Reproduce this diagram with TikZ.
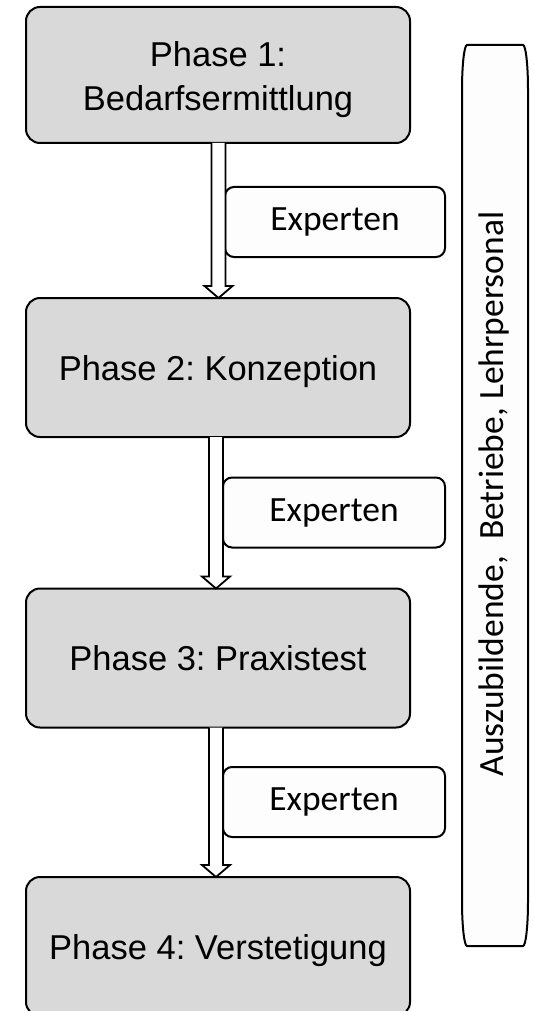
\documentclass[tikz,border=0pt]{standalone}
\usepackage{fontspec}
\setmainfont{Liberation Sans}
\newfontfamily\calibri{Carlito}
\frenchspacing
\definecolor{boxgray}{HTML}{D9D9D9}
\definecolor{paper}{HTML}{FDFDFD}
\tikzset{
  phase/.style={draw=black, line width=2pt, fill=boxgray, rounded corners=14pt,
    minimum width=384pt, minimum height=139pt, inner sep=0pt, outer sep=0pt,
    font=\fontsize{34.5}{44}\selectfont, align=center},
  oneline/.style={text height=25pt, text depth=0pt},
  expert/.style={draw=black, line width=2pt, fill=paper, rounded corners=9pt,
    minimum height=70pt, inner sep=0pt, outer sep=0pt,
    font=\calibri\fontsize{35.5}{42}\selectfont},
  hollow/.style={draw=black, line width=1.8pt, fill=white, line join=miter},
  sidebox/.style={draw=black, line width=2pt, fill=paper},
  sidetext/.style={font=\calibri\fontsize{35.5}{42}\selectfont, rotate=90, anchor=base, inner sep=0pt}
}
\newcommand\hollowarrow[3]{%
  \draw[hollow] ([xshift=#3pt-7pt]#1.south)
    -- ([xshift=#3pt-7pt,yshift=12pt]#2.north)
    -- ([xshift=#3pt-14pt,yshift=12pt]#2.north)
    -- ([xshift=#3pt]#2.north)
    -- ([xshift=#3pt+14pt,yshift=12pt]#2.north)
    -- ([xshift=#3pt+7pt,yshift=12pt]#2.north)
    -- ([xshift=#3pt+7pt]#1.south);}
\begin{document}
\begin{tikzpicture}[x=1pt,y=-1pt]
  \useasboundingbox (0,0) rectangle (534,1011);
  % phases
  \node[phase,minimum height=136pt] (b1) at (218,75) {\rule{0pt}{34.6pt}Phase 1:\\Bedarfsermittlung};
  \node[phase,oneline] (b2) at (218,367.5) {Phase 2: Konzeption};
  \node[phase,oneline] (b3) at (218,658) {Phase 3: Praxistest};
  \node[phase,oneline] (b4) at (218,946.5) {Phase 4: Verstetigung};
  % experts
  \node[expert,minimum width=220pt] (e1) at (335,222) {Experten};
  \node[expert,minimum width=222pt] (e2) at (334,512.5) {Experten};
  \node[expert,minimum width=222pt] (e3) at (334,802) {Experten};
  % arrows
  \hollowarrow{b1}{b2}{0.5}
  \hollowarrow{b2}{b3}{-2}
  \hollowarrow{b3}{b4}{-2}
  % side box
  \path[sidebox] (467,45) -- (523,45)
    .. controls (525.8,45) and (528,65.2) .. (528,90)
    -- (528,901)
    .. controls (528,925.8) and (525.8,946) .. (523,946)
    -- (467,946)
    .. controls (464.2,946) and (462,925.8) .. (462,901)
    -- (462,90)
    .. controls (462,65.2) and (464.2,45) .. (467,45) -- cycle;
  \node[sidetext] (side) at (503,494) {Auszubildende,\ \ Betriebe, Lehrpersonal};
\end{tikzpicture}
\end{document}
